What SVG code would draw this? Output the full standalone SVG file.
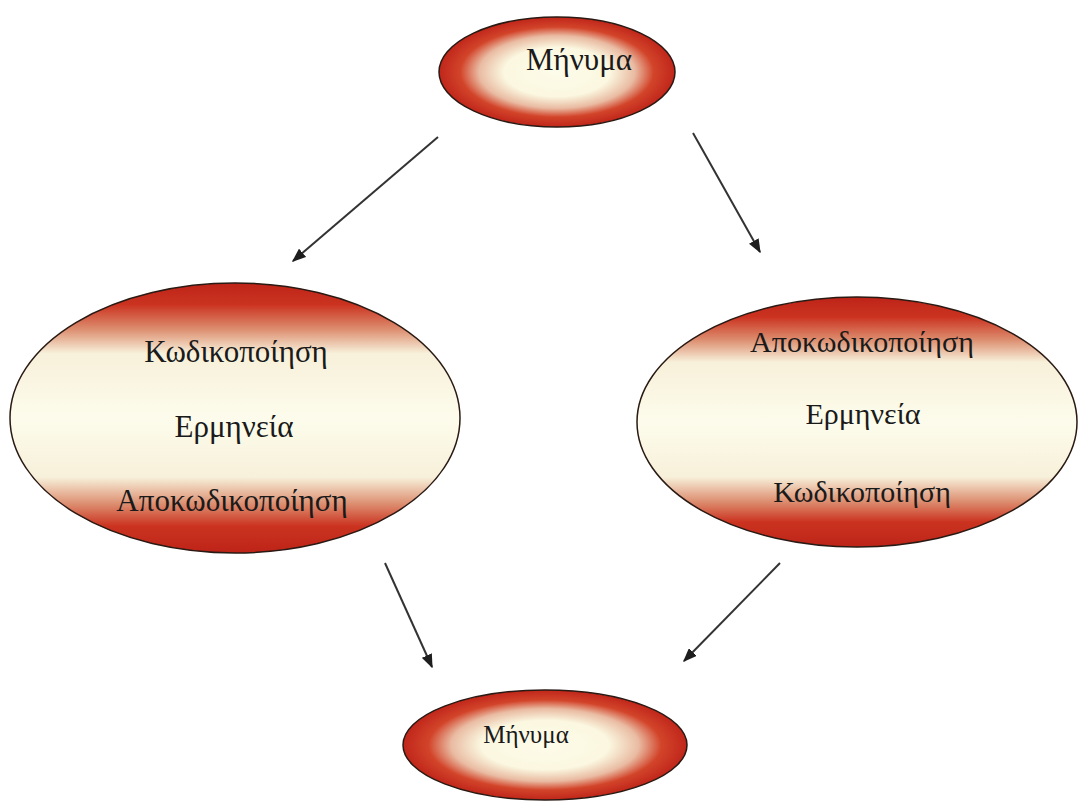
<svg xmlns="http://www.w3.org/2000/svg" width="1079" height="806" viewBox="0 0 1079 806">
  <defs>
    <!-- cream core fading to red rim, for the small message ellipses -->
    <radialGradient id="gradCore" cx="0.5" cy="0.5" r="0.5">
      <stop offset="0" stop-color="#fdfcea"/>
      <stop offset="0.45" stop-color="#fbf7e0"/>
      <stop offset="0.66" stop-color="#e9bba2"/>
      <stop offset="0.82" stop-color="#d2442a"/>
      <stop offset="1" stop-color="#c0261a"/>
    </radialGradient>
    <!-- red top and bottom bands with a cream middle, for the process ellipses -->
    <linearGradient id="gradBands" x1="0" y1="0" x2="0" y2="1">
      <stop offset="0" stop-color="#bd2418"/>
      <stop offset="0.08" stop-color="#cb3320"/>
      <stop offset="0.17" stop-color="#dc8c6e"/>
      <stop offset="0.26" stop-color="#f7f0da"/>
      <stop offset="0.5" stop-color="#fdfcec"/>
      <stop offset="0.72" stop-color="#f7f0da"/>
      <stop offset="0.82" stop-color="#dc8c6e"/>
      <stop offset="0.9" stop-color="#cb3320"/>
      <stop offset="1" stop-color="#bd2418"/>
    </linearGradient>
    <marker id="arrowHead" viewBox="0 0 10 10" refX="9" refY="5" markerWidth="14" markerHeight="11" markerUnits="userSpaceOnUse" orient="auto" preserveAspectRatio="none">
      <path d="M0,0 L10,5 L0,10 z" fill="#1e1e1e"/>
    </marker>
    <style>
      .shape { stroke: #2a1a14; stroke-width: 1.5; }
      .label { font-family: "Liberation Serif", "Times New Roman", serif; fill: #1a1a1a; text-anchor: middle; }
      .link { stroke: #333333; stroke-width: 2; fill: none; marker-end: url(#arrowHead); }
    </style>
  </defs>

  <rect width="1079" height="806" fill="#ffffff"/>

  <g id="msg-top">
    <ellipse class="shape" cx="557" cy="72" rx="118" ry="55" fill="url(#gradCore)"/>
    <text class="label" x="579" y="70" font-size="31">Μήνυμα</text>
  </g>

  <g id="process-left">
    <ellipse class="shape" cx="235" cy="418" rx="225" ry="135" fill="url(#gradBands)"/>
    <text class="label" x="236" y="362" font-size="31">Κωδικοποίηση</text>
    <text class="label" x="234" y="437" font-size="31">Ερμηνεία</text>
    <text class="label" x="232" y="511" font-size="31">Αποκωδικοποίηση</text>
  </g>

  <g id="process-right">
    <ellipse class="shape" cx="857" cy="422" rx="220" ry="125" fill="url(#gradBands)"/>
    <text class="label" x="862" y="352" font-size="30">Αποκωδικοποίηση</text>
    <text class="label" x="863" y="424" font-size="30">Ερμηνεία</text>
    <text class="label" x="862" y="502" font-size="30">Κωδικοποίηση</text>
  </g>

  <g id="msg-bottom">
    <ellipse class="shape" cx="545" cy="745" rx="142" ry="55" fill="url(#gradCore)"/>
    <text class="label" x="526" y="743" font-size="25">Μήνυμα</text>
  </g>

  <g id="connectors">
    <line class="link" x1="438" y1="137" x2="293" y2="261"/>
    <line class="link" x1="693" y1="133" x2="760" y2="252"/>
    <line class="link" x1="385" y1="563" x2="432" y2="667"/>
    <line class="link" x1="780" y1="563" x2="684" y2="661"/>
  </g>
</svg>
